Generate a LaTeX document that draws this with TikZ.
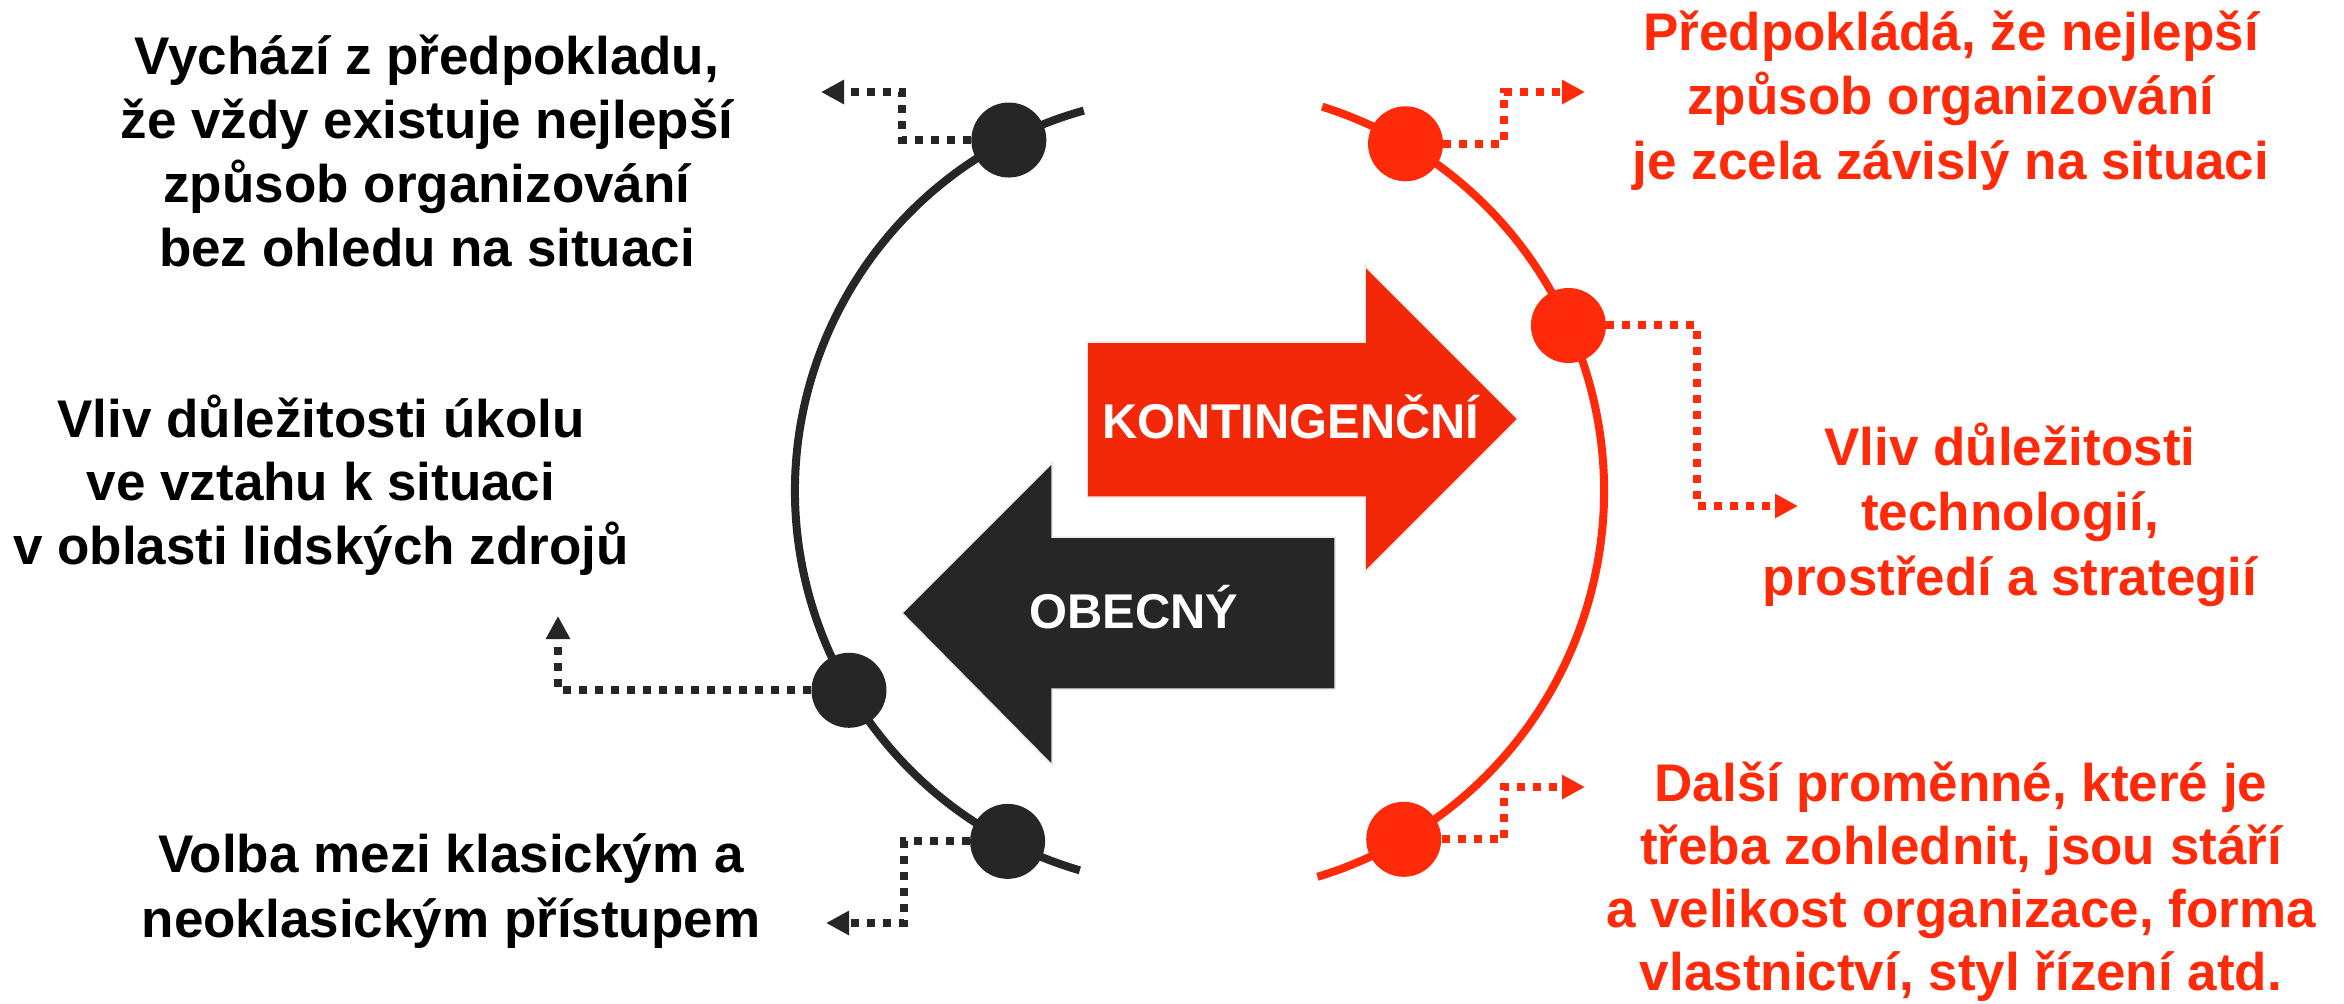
\documentclass[tikz,border=0pt]{standalone}
\usepackage{fontspec}
\setmainfont{Liberation Sans}
\usetikzlibrary{arrows.meta}
\definecolor{dk}{HTML}{262626}
\definecolor{rd}{HTML}{FF2A0A}
\definecolor{rdarrow}{HTML}{F22808}
\begin{document}
\begin{tikzpicture}[x=0.5pt,y=0.5pt,
  dot/.style={circle,inner sep=0pt,minimum size=37.5pt},
  arcline/.style={line width=4pt},
  conn/.style={line width=4pt,dash pattern=on 4pt off 4pt,-{Triangle[length=11.5pt,width=11.5pt]}},
  bconn/.style={conn,draw=dk},
  rconn/.style={conn,draw=rd},
  side/.style={font=\fontsize{26.5}{32}\selectfont\bfseries,anchor=base,inner sep=0pt},
  lt/.style={side,text=black},
  rt/.style={side,text=rd},
  bigtxt/.style={font=\fontsize{24.4}{29}\selectfont\bfseries,text=white,anchor=base,inner sep=0pt},
  bigarrow/.style={draw=black!8,line width=0.75pt}
]
\fill[white] (0,0) rectangle (2344,-1003);
\useasboundingbox (0,0) rectangle (2344,-1003);

% big arrows
\filldraw[bigarrow,fill=rdarrow] (1087,-342) -- (1365,-342) -- (1365,-266) -- (1518,-419) -- (1365,-572) -- (1365,-497) -- (1087,-497) -- cycle;
\filldraw[bigarrow,fill=dk] (1335,-537) -- (1052,-537) -- (1052,-463) -- (902,-613) -- (1052,-765) -- (1052,-689) -- (1335,-689) -- cycle;
\node[bigtxt] (kont) at (1291,-438) {KONTINGENČNÍ};
\node[bigtxt] (obec) at (1134,-628) {OBECNÝ};

% arcs
\draw[arcline,dk] (1190,-491) ++(105.6:395) arc[start angle=105.6,end angle=253.8,radius=395];
\draw[arcline,rd] (1201,-491) ++(72.5:403) arc[start angle=72.5,end angle=-73.2,radius=403];

% dot positions
\coordinate (pB1) at ([shift={(1190,-491)}]117.3:395);
\coordinate (pB2) at ([shift={(1190,-491)}]210.3:395);
\coordinate (pB3) at ([shift={(1190,-491)}]242.5:395);
\coordinate (pR1) at ([shift={(1201,-491)}]59.5:403);
\coordinate (pR2) at ([shift={(1201,-491)}]24.25:403);
\coordinate (pR3) at ([shift={(1201,-491)}]-59.8:403);

% connector corner and end points
\coordinate (b1c) at (902,-92);
\coordinate (b1e) at (821,-92);
\coordinate (b2e) at (558,-616);
\coordinate (b3c) at (904,-923);
\coordinate (b3e) at (826,-923);
\coordinate (r1c) at (1504,-92);
\coordinate (r1e) at (1585,-92);
\coordinate (r2c) at (1697,-506);
\coordinate (r2e) at (1798,-506);
\coordinate (r3c) at (1504,-787);
\coordinate (r3e) at (1585,-787);

% dot nodes (for anchors)
\node[dot] (B1) at (pB1) {};
\node[dot] (B2) at (pB2) {};
\node[dot] (B3) at (pB3) {};
\node[dot] (R1) at (pR1) {};
\node[dot] (R2) at (pR2) {};
\node[dot] (R3) at (pR3) {};

\draw[bconn] (B1.west) -| (b1c) -- (b1e);
\draw[bconn] (B2.west) -| (b2e);
\draw[bconn] (B3.west) -| (b3c) -- (b3e);
\draw[rconn] (R1.east) -| (r1c) -- (r1e);
\draw[rconn] (R2.east) -| (r2c) -- (r2e);
\draw[rconn] (R3.east) -| (r3c) -- (r3e);

\fill[dk] (B1) circle[radius=37.5];
\fill[dk] (B2) circle[radius=37.5];
\fill[dk] (B3) circle[radius=37.5];
\fill[rd] (R1) circle[radius=37.5];
\fill[rd] (R2) circle[radius=37.5];
\fill[rd] (R3) circle[radius=37.5];

% side texts
\foreach \t [count=\i from 0] in {{Vychází z předpokladu,},{že vždy existuje nejlepší},{způsob organizování},{bez ohledu na situaci}}
  \node[lt] (La\i) at (427,-74-64.3*\i) {\t};
\foreach \t [count=\i from 0] in {{Vliv důležitosti úkolu},{ve vztahu k situaci},{v oblasti lidských zdrojů}}
  \node[lt] (Lb\i) at (321,-437-63.5*\i) {\t};
\foreach \t [count=\i from 0] in {{Volba mezi klasickým a},{neoklasickým přístupem}}
  \node[lt] (Lc\i) at (451,-872-65*\i) {\t};
\foreach \t [count=\i from 0] in {{Předpokládá, že nejlepší},{způsob organizování},{je zcela závislý na situaci}}
  \node[rt] (Ra\i) at (1951,-50-64.5*\i) {\t};
\foreach \t [count=\i from 0] in {{Vliv důležitosti},{technologií,},{prostředí a strategií}}
  \node[rt] (Rb\i) at (2010,-465-65*\i) {\t};
\foreach \t [count=\i from 0] in {{Další proměnné, které je},{třeba zohlednit, jsou stáří},{a velikost organizace, forma},{vlastnictví, styl řízení atd.}}
  \node[rt] (Rc\i) at (1961,-801-63.3*\i) {\t};
\end{tikzpicture}
\end{document}
